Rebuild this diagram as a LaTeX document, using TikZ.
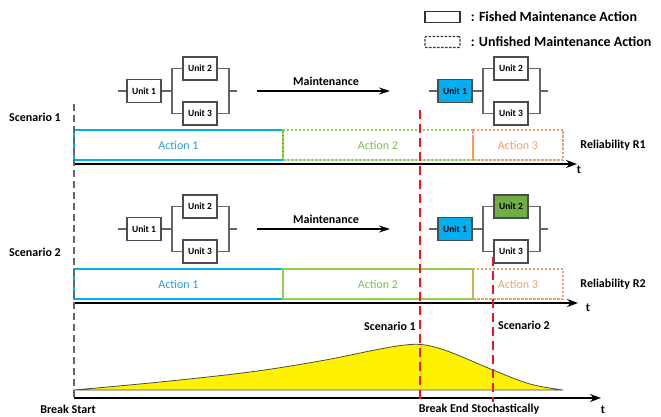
\documentclass[tikz,border=0pt]{standalone}
\usepackage{fontspec}
\setmainfont{Carlito}
\usepackage{tikz}
\usetikzlibrary{arrows.meta,positioning,calc}
\definecolor{actblue}{HTML}{00B0F0}
\definecolor{actbluetxt}{HTML}{2E9AE0}
\definecolor{actgreen}{HTML}{92D050}
\definecolor{actgreentxt}{HTML}{7DBE4F}
\definecolor{actorange}{HTML}{F79B5A}
\definecolor{actorangetxt}{HTML}{F4A06A}
\definecolor{unitblue}{HTML}{00B0F0}
\definecolor{unitgreen}{HTML}{70AD47}
\definecolor{breakred}{HTML}{F0141E}
\tikzstyle{unitbox}=[draw=black!70,line width=1.2pt,minimum width=34pt,minimum height=23pt,inner sep=0pt,font=\fontsize{9.5}{11}\selectfont\bfseries]
\tikzstyle{wire}=[draw=black!60,line width=1.1pt]
\tikzstyle{actbox}=[line width=1.5pt,minimum height=30pt,inner sep=0pt,outer sep=0pt,font=\fontsize{12}{14}\selectfont]
\tikzstyle{unfinished}=[dash pattern=on 2.5pt off 1.5pt]
\tikzstyle{lbl}=[font=\fontsize{12}{14}\selectfont\bfseries,inner sep=0pt]
\tikzstyle{legendlbl}=[font=\fontsize{14}{16}\selectfont\bfseries,inner sep=0pt]
\tikzstyle{axisline}=[line width=1.6pt,-{Stealth[length=11pt,width=8pt]}]
\tikzstyle{maint}=[line width=1.1pt,-{Stealth[length=11pt,width=7pt]}]
\tikzstyle{breakline}=[draw=breakred,line width=1.5pt,dash pattern=on 9pt off 5pt]
\begin{document}
\begin{tikzpicture}[x=1pt,y=-1pt]
\useasboundingbox (0,0) rectangle (661,417);
% legend
\node [draw=black!80,line width=1.5pt,minimum width=35pt,minimum height=11pt,inner sep=0pt] (lgfin) at (442.5,17) {};
\node [legendlbl,right=10pt of lgfin] (lgfintxt) {: Fished Maintenance Action};
\node [draw=black!80,line width=1.3pt,unfinished,rounded corners=1pt,minimum width=35pt,minimum height=11pt,inner sep=0pt] (lgunf) at (442.5,42) {};
\node [legendlbl,right=10pt of lgunf] (lgunftxt) {: Unfished Maintenance Action};
% unit systems
\foreach \n/\px/\py/\fa/\fb in {a/144/91/white/white, b/455/91/unitblue/white, c/144/229/white/white, d/455/229/unitblue/unitgreen} {
  \node [unitbox,fill=\fa] (\n1) at (\px,\py) {Unit 1};
  \node [unitbox,fill=\fb] (\n2) at (\px+56,\py-22.5) {Unit 2};
  \node [unitbox] (\n3) at (\px+56,\py+22.5) {Unit 3};
  \coordinate (\n in) at (\px-26,\py);
  \coordinate (\n jl) at (\px+28,\py);
  \coordinate (\n jr) at (\px+85,\py);
  \coordinate (\n out) at (\px+93,\py);
  \draw [wire] (\n in) -- (\n1) -- (\n jl);
  \draw [wire] (\n2) -| (\n jl) |- (\n3);
  \draw [wire] (\n2) -| (\n jr) |- (\n3);
  \draw [wire] (\n jr) -- (\n out);
}
% maintenance arrows
\coordinate (m1s) at (257,91);
\coordinate (m1e) at (390,91);
\draw [maint] (m1s) -- (m1e);
\node [lbl] (m1) at (326,81) {Maintenance};
\coordinate (m2s) at (257,229);
\coordinate (m2e) at (390,229);
\draw [maint] (m2s) -- (m2e);
\node [lbl] (m2) at (326,219) {Maintenance};
% scenario 1
\node [lbl] (sc1) at (35,117) {Scenario 1};
\node [actbox,draw=actblue,text=actbluetxt,anchor=north west,minimum width=209pt] (s1act1) at (74,130) {Action 1};
\node [actbox,unfinished,draw=actgreen,text=actgreentxt,minimum width=190pt,right=0pt of s1act1] (s1act2) {Action 2};
\node [actbox,unfinished,draw=actorange,text=actorangetxt,minimum width=90pt,right=0pt of s1act2] (s1act3) {Action 3};
\node [lbl] (rel1) at (613,145) {Reliability R1};
\coordinate (s1o) at (74,164);
\coordinate (s1e) at (577,164);
\draw [axisline] (s1o) -- (s1e);
\node [lbl] (s1t) at (579,170) {t};
% scenario 2
\node [lbl] (sc2) at (35,252) {Scenario 2};
\node [actbox,draw=actblue,text=actbluetxt,anchor=north west,minimum width=209pt] (s2act1) at (74,269) {Action 1};
\node [actbox,draw=actgreen,text=actgreentxt,minimum width=190pt,right=0pt of s2act1] (s2act2) {Action 2};
\node [actbox,unfinished,draw=actorange,text=actorangetxt,minimum width=90pt,right=0pt of s2act2] (s2act3) {Action 3};
\node [lbl] (rel2) at (613,284) {Reliability R2};
\coordinate (s2o) at (74,303);
\coordinate (s2e) at (578,303);
\draw [axisline] (s2o) -- (s2e);
\node [lbl] (s2t) at (588,308) {t};
% break end distribution
\draw [fill=yellow,draw=black!70,line width=0.8pt] plot [smooth,tension=0.6] coordinates {(74,390) (160,382) (250,372) (320,361) (375,350) (405,345) (425,345) (450,352) (493,370) (530,384) (563,390)} -- cycle;
\coordinate (bo) at (74,398);
\coordinate (be) at (601,398);
\draw [axisline] (bo) -- (be);
\node [lbl] (bt) at (603,409.5) {t};
% break start / end lines
\coordinate (bstop) at (74,104);
\draw [draw=black!60,line width=1.5pt,dash pattern=on 7pt off 4pt] (bstop) -- (bo);
\node [lbl] (bstart) at (68,409) {Break Start};
\coordinate (r1top) at (420,110);
\coordinate (r1bot) at (420,402);
\draw [breakline] (r1top) -- (r1bot);
\coordinate (r2top) at (493,257);
\coordinate (r2bot) at (493,402);
\draw [breakline] (r2top) -- (r2bot);
\node [lbl] (bend) at (479,409) {Break End Stochastically};
\node [lbl] (sc1end) at (390,326) {Scenario 1};
\node [lbl] (sc2end) at (524,325) {Scenario 2};
\end{tikzpicture}
\end{document}
